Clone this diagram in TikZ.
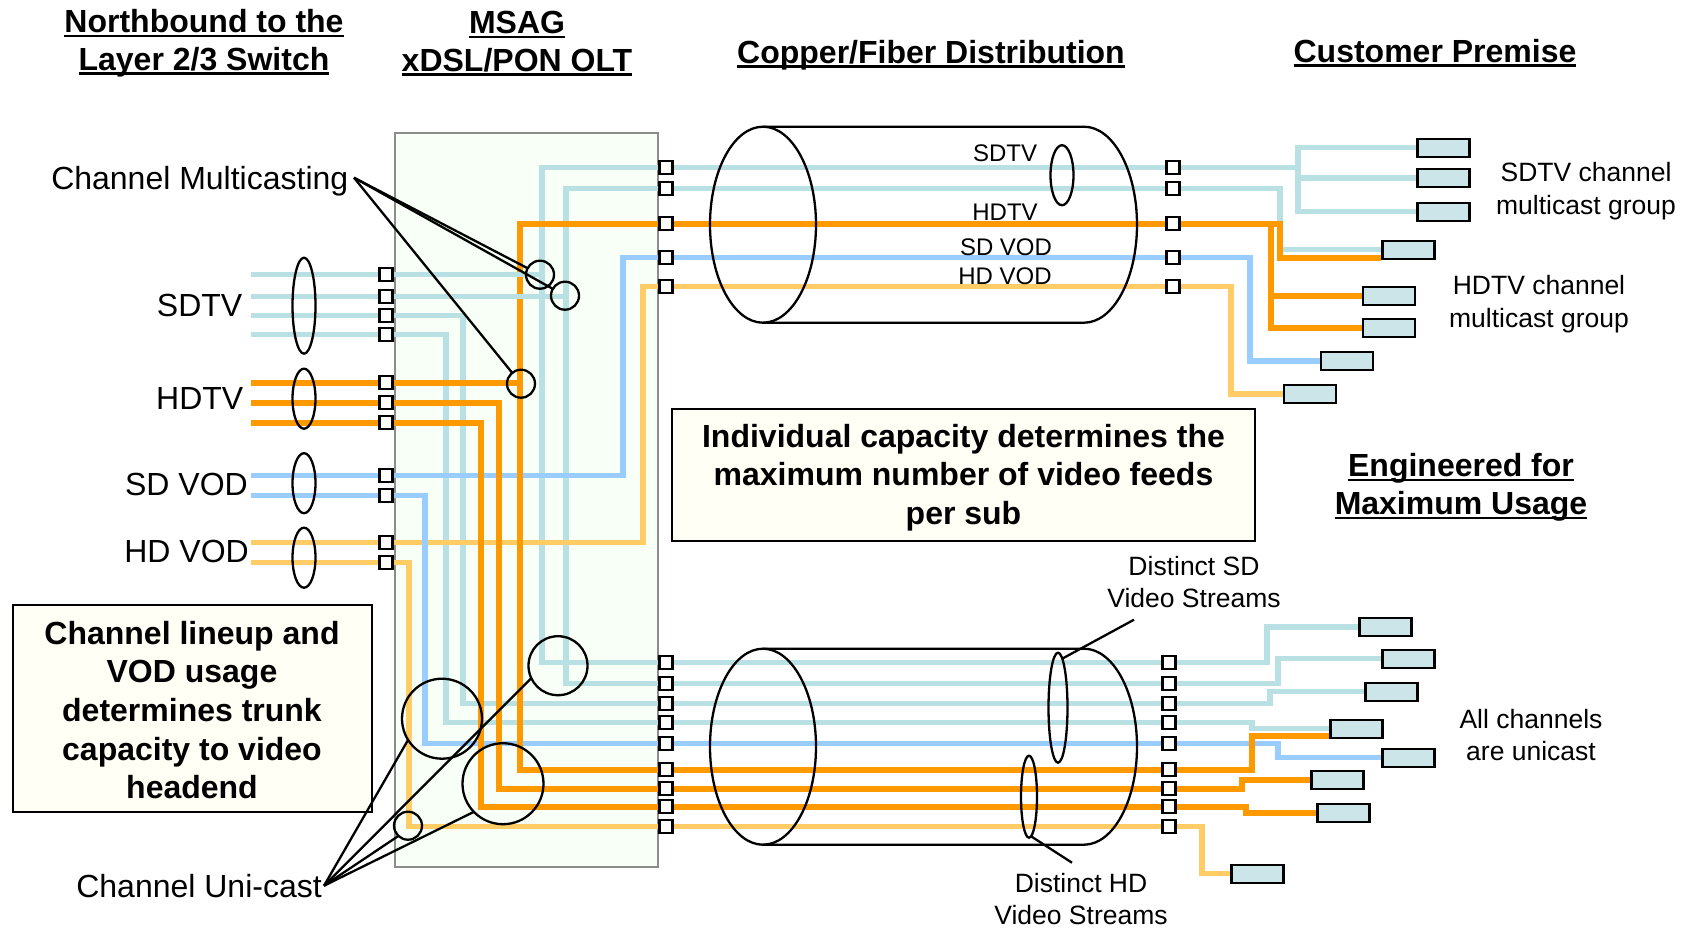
\documentclass[tikz,border=0pt]{standalone}
\usepackage{fontspec}
\setmainfont{Liberation Sans}
\usetikzlibrary{shapes.geometric}
\definecolor{sdtvcol}{HTML}{B9E0E3}
\definecolor{hdtvcol}{HTML}{FF9900}
\definecolor{sdvodcol}{HTML}{99CCFF}
\definecolor{hdvodcol}{HTML}{FFCC66}
\definecolor{oltfill}{HTML}{F7FFF7}
\definecolor{notefill}{HTML}{FFFFF6}
\definecolor{setfill}{HTML}{CBE5E8}
\newcommand{\ulhead}[1]{\setbox0\hbox{#1}\leavevmode\rlap{\rule[-4.5pt]{\wd0}{2.4pt}}\box0}
\tikzset{
    sdwire/.style={draw=sdtvcol,line width=5.5pt},
    hdwire/.style={draw=hdtvcol,line width=6pt},
    sdvwire/.style={draw=sdvodcol,line width=5.5pt},
    hdvwire/.style={draw=hdvodcol,line width=5.5pt},
    port/.style={draw,fill=white,line width=2.3pt,inner sep=0pt,outer sep=1.15pt,minimum size=13pt},
    settop/.style={draw,fill=setfill,line width=2.3pt,inner sep=0pt,outer sep=1.15pt,minimum width=52pt,minimum height=18pt},
    ring/.style={circle,draw,line width=2.3pt,inner sep=0pt,outer sep=0pt},
    group/.style={ellipse,draw,line width=2.3pt,inner sep=0pt,outer sep=0pt},
    leader/.style={line width=2.3pt},
    notebox/.style={draw,fill=notefill,line width=2pt,inner sep=0pt},
    note/.style={align=center,inner sep=0pt,font=\fontsize{32}{38.6}\selectfont\bfseries},
    heading/.style={align=center,font=\fontsize{32}{37.7}\selectfont\bfseries},
    biglabel/.style={font=\fontsize{32}{38}\selectfont},
    midlabel/.style={align=center,font=\fontsize{26.5}{32.5}\selectfont},
    smalllabel/.style={font=\fontsize{24}{29}\selectfont},
}
\begin{document}
\begin{tikzpicture}[x=1pt,y=-1pt]
    \useasboundingbox (0,0) rectangle (1689,927);

    \begin{scope}[yshift=-0.7pt]
    \node[draw=black!45,fill=oltfill,line width=2.2pt,inner sep=0pt,minimum width=263pt,minimum height=734pt] (olt) at (526.5,499) {};

    \coordinate (inx) at (251,0);
    \foreach \n/\y/\kind in {a/274/sdwire,b/296/sdwire,c/315/sdwire,d/334/sdwire,
                             e/382/hdwire,f/402/hdwire,g/422/hdwire,
                             h/475/sdvwire,i/495/sdvwire,j/542/hdvwire,k/562/hdvwire}{
        \node[port] (lp\n) at (386,\y) {};
        \draw[\kind] (lp\n -| inx) -- (lp\n);
    }
    \foreach \n/\y/\kind in {a/167/sdwire,b/188/sdwire,c/223/hdwire,d/257/sdvwire,e/286/hdvwire}{
        \node[port] (rp\n) at (666,\y) {};
        \node[port] (fp\n) at (1173,\y) {};
        \draw[\kind] (rp\n) -- (fp\n);
    }
    \foreach \n/\y/\kind in {a/662/sdwire,b/683/sdwire,c/703/sdwire,d/722/sdwire,e/743/sdvwire,
                             f/769/hdwire,g/788/hdwire,h/806/hdwire,i/826/hdvwire}{
        \node[port] (sp\n) at (666,\y) {};
        \node[port] (gp\n) at (1169,\y) {};
        \draw[\kind] (sp\n) -- (gp\n);
    }

    % inside the OLT
    \foreach \from/\to/\bx/\kind in {rpa/spa/542/sdwire,rpb/spb/566/sdwire,lpc/spc/463/sdwire,lpd/spd/446/sdwire,
                                     lpj/rpe/643/hdvwire,lpk/spi/409/hdvwire,
                                     lph/rpd/623/sdvwire,lpi/spe/425/sdvwire,
                                     rpc/spf/520/hdwire,lpf/spg/499/hdwire,lpg/sph/481/hdwire}{
        \coordinate (bend) at (\bx,0);
        \draw[\kind] (\from) -- (\from -| bend) |- (\to);
    }
    \foreach \from/\bx/\kind in {lpa/542/sdwire,lpb/566/sdwire,lpe/520/hdwire}{
        \coordinate (bend) at (\bx,0);
        \draw[\kind] (\from) -- (\from -| bend);
    }

    % set top boxes
    \foreach \n/\cx/\cy in {a/1443.5/147,b/1443.5/177.5,c/1443.5/211,d/1408.5/249,e/1389/295,f/1389/327,g/1347/360.5,h/1310/393.5,
                            i/1385.5/626.5,j/1408.5/658,k/1391.5/691,l/1356.5/728.5,m/1408.5/757,n/1337.5/779.5,o/1343.5/812.5,p/1257.5/873}
        \node[settop] (box\n) at (\cx,\cy) {};

    % copper side, top
    \coordinate (topbus) at (1298,0);
    \draw[sdwire] (fpa) -- (fpa -| topbus);
    \draw[sdwire] (boxa) -- (boxa -| topbus) -- (boxc -| topbus) -- (boxc);
    \draw[sdwire] (boxb) -- (boxb -| topbus);
    \coordinate (hdbus) at (1271,0);
    \coordinate (hdend) at (1381,257);
    \coordinate (sdend) at (1381,249);
    \coordinate (bend) at (1280,0);
    \draw[sdwire] (fpb) -- (fpb -| bend) |- (sdend);
    \draw[hdwire] (fpc) -- (fpc -| bend) |- (hdend);
    \draw[hdwire] (fpc -| hdbus) |- (boxe);
    \draw[hdwire] (fpc -| hdbus) |- (boxf);
    \foreach \from/\to/\bx/\kind in {fpd/boxg/1250/sdvwire,fpe/boxh/1231/hdvwire,
                                     gpa/boxi/1267/sdwire,gpb/boxj/1278/sdwire,gpc/boxk/1270/sdwire,
                                     gpe/boxm/1278/sdvwire,gpg/boxn/1242/hdwire,gph/boxo/1246/hdwire,gpi/boxp/1202/hdvwire}{
        \coordinate (bend) at (\bx,0);
        \draw[\kind] (\from) -- (\from -| bend) |- (\to);
    }
    \coordinate (bend) at (1252,0);
    \coordinate (ldtop) at (1329,728);
    \coordinate (ldlow) at (1329,735);
    \draw[sdwire] (gpd) -- (gpd -| bend) |- (ldtop);
    \draw[hdwire] (gpf) -- (gpf -| bend) |- (ldlow);

    % cylinders
    \node[group,minimum width=106pt,minimum height=196pt] (topcyl) at (763,224) {};
    \draw[line width=2.3pt] (topcyl.north) -- ++(321,0) arc[start angle=90,end angle=-90,x radius=53pt,y radius=98pt] -- (topcyl.south);
    \node[group,minimum width=106pt,minimum height=196pt] (lowcyl) at (763,746) {};
    \draw[line width=2.3pt] (lowcyl.north) -- ++(321,0) arc[start angle=90,end angle=-90,x radius=53pt,y radius=98pt] -- (lowcyl.south);

    % groups
    \node[group,minimum width=23pt,minimum height=96pt] (sdgroup) at (304,305) {};
    \node[group,minimum width=23pt,minimum height=60pt] (hdgroup) at (304,398) {};
    \node[group,minimum width=23pt,minimum height=60pt] (sdvgroup) at (304,482.5) {};
    \node[group,minimum width=23pt,minimum height=60pt] (hdvgroup) at (304,557) {};
    \node[group,minimum width=23pt,minimum height=60pt] (cylsd) at (1062,174.5) {};
    \node[group,minimum width=19pt,minimum height=110pt] (sdstream) at (1058,707) {};
    \node[group,minimum width=16pt,minimum height=82pt] (hdstream) at (1029,796) {};

    \node[ring,minimum size=28pt] (mca) at (540,274) {};
    \node[ring,minimum size=28pt] (mcb) at (565,295) {};
    \node[ring,minimum size=28pt] (mcc) at (521,383) {};
    \node[ring,minimum size=59pt] (uca) at (558,665) {};
    \node[ring,minimum size=80pt] (ucb) at (442,718) {};
    \node[ring,minimum size=81pt] (ucc) at (503,783) {};
    \node[ring,minimum size=28pt] (ucd) at (408,825) {};

    % note boxes
    \node[notebox,minimum width=359pt,minimum height=207pt] (lineupbox) at (192.5,707.5) {};
    \node[notebox,minimum width=583pt,minimum height=132pt] (capacitybox) at (963.5,474) {};

    % leaders
    \coordinate (mcfoot) at (354,177);
    \coordinate (ucfoot) at (324,885);
    \foreach \n in {mca,mcb,mcc}
        \draw[leader] (mcfoot) -- (\n);
    \draw[leader] (ucfoot) -- (uca.205);
    \draw[leader] (ucfoot) -- (ucb.212);
    \draw[leader] (ucfoot) -- (ucc.224);
    \draw[leader] (ucfoot) -- (ucd.227);
    \coordinate (sdfoot) at (1134,619);
    \coordinate (hdfoot) at (1072,862);
    \draw[leader] (sdstream.85) -- (sdfoot);
    \draw[leader] (hdstream.-87) -- (hdfoot);
    \end{scope}

    % labels
    \node[note] (lineup) at (192,710) {Channel lineup and\\VOD usage\\determines trunk\\capacity to video\\headend};
    \node[note] (capacity) at (963.5,477.5) {Individual capacity determines the\\maximum number of video feeds\\per sub};
    \node[heading] (north) at (204,43) {\ulhead{Northbound to the}\\\ulhead{Layer 2/3 Switch}};
    \node[heading] (msag) at (517,43.5) {\ulhead{MSAG}\\\ulhead{xDSL/PON OLT}};
    \node[heading] (copper) at (931,55) {\ulhead{Copper/Fiber Distribution}};
    \node[heading] (premise) at (1435,53) {\ulhead{Customer Premise}};
    \node[heading] (usage) at (1461,487.5) {\ulhead{Engineered for}\\\ulhead{Maximum Usage}};
    \node[biglabel,left,inner sep=0pt] (multi) at (348.5,181) {Channel Multicasting};
    \node[biglabel,left,inner sep=0pt] (sdname) at (242.5,305) {SDTV};
    \node[biglabel,left,inner sep=0pt] (hdname) at (243.5,398) {HDTV};
    \node[biglabel,left,inner sep=0pt] (sdvname) at (248,484) {SD VOD};
    \node[biglabel,left,inner sep=0pt] (hdvname) at (249,551) {HD VOD};
    \node[biglabel,left,inner sep=0pt] (uni) at (322,886) {Channel Uni-cast};
    \node[midlabel] (sdgrp) at (1586,191) {SDTV channel\\multicast group};
    \node[midlabel] (hdgrp) at (1539,304) {HDTV channel\\multicast group};
    \node[midlabel] (allch) at (1531,735) {All channels\\are unicast};
    \node[midlabel] (sdnote) at (1194,582) {Distinct SD\\Video Streams};
    \node[midlabel] (hdnote) at (1081,899) {Distinct HD\\Video Streams};
    \node[smalllabel] (cyla) at (1005,153) {SDTV};
    \node[smalllabel] (cylb) at (1005,212) {HDTV};
    \node[smalllabel] (cylc) at (1006,247) {SD VOD};
    \node[smalllabel] (cyld) at (1005,276) {HD VOD};
\end{tikzpicture}
\end{document}
